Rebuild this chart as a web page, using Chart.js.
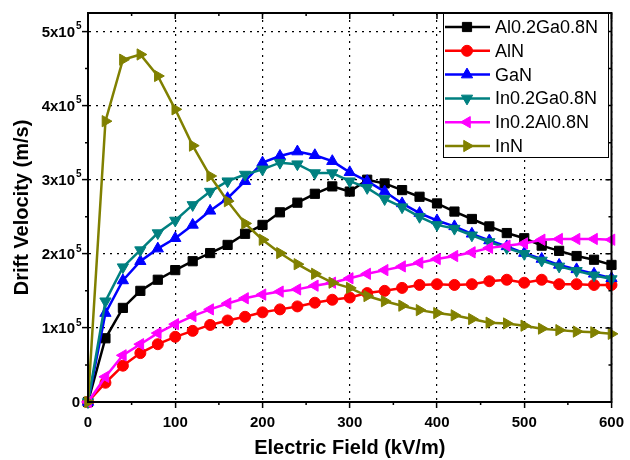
<!DOCTYPE html>
<html>
<head>
<meta charset="utf-8">
<script src="https://cdn.jsdelivr.net/npm/chart.js@4.4.1/dist/chart.umd.min.js"></script>
<style>
  body { margin: 0; background: #fff; }
  canvas { display: block; }
</style>
</head>
<body>
<canvas id="chart" width="630" height="460"></canvas>
<script>
// Electric field (kV/m)
const fields = [0, 20, 40, 60, 80, 100, 120, 140, 160, 180, 200, 220, 240, 260, 280, 300,
                320, 340, 360, 380, 400, 420, 440, 460, 480, 500, 520, 540, 560, 580, 600];

// Drift velocity, in units of 1e5 m/s
const alGaN = [0, 0.86, 1.27, 1.50, 1.65, 1.78, 1.90, 2.01, 2.12, 2.27, 2.39, 2.56, 2.69, 2.81, 2.91, 2.84,
               3.00, 2.95, 2.86, 2.77, 2.68, 2.57, 2.47, 2.37, 2.28, 2.21, 2.11, 2.04, 1.97, 1.92, 1.85];
const alN   = [0, 0.26, 0.49, 0.66, 0.78, 0.88, 0.96, 1.04, 1.10, 1.15, 1.21, 1.25, 1.29, 1.34, 1.38, 1.41,
               1.47, 1.50, 1.54, 1.58, 1.59, 1.58, 1.59, 1.63, 1.65, 1.61, 1.65, 1.59, 1.59, 1.58, 1.58];
const gaN   = [0, 1.20, 1.64, 1.90, 2.07, 2.21, 2.39, 2.58, 2.75, 2.98, 3.23, 3.32, 3.38, 3.33, 3.25, 3.10,
               2.98, 2.84, 2.68, 2.55, 2.45, 2.37, 2.27, 2.18, 2.10, 2.01, 1.93, 1.85, 1.79, 1.73, 1.67];
const inGaN = [0, 1.36, 1.82, 2.05, 2.28, 2.45, 2.66, 2.84, 2.98, 3.07, 3.14, 3.23, 3.21, 3.09, 3.09, 2.98,
               2.89, 2.74, 2.63, 2.50, 2.39, 2.34, 2.25, 2.16, 2.08, 2.00, 1.91, 1.83, 1.77, 1.71, 1.66];
const inAlN = [0, 0.34, 0.63, 0.78, 0.93, 1.05, 1.16, 1.25, 1.33, 1.40, 1.45, 1.49, 1.52, 1.57, 1.61, 1.67,
               1.73, 1.78, 1.83, 1.88, 1.93, 1.97, 2.02, 2.08, 2.11, 2.14, 2.19, 2.20, 2.20, 2.20, 2.19];
const inN   = [0, 3.79, 4.62, 4.69, 4.40, 3.95, 3.46, 3.05, 2.71, 2.41, 2.19, 2.01, 1.86, 1.73, 1.61, 1.54,
               1.43, 1.36, 1.30, 1.24, 1.20, 1.17, 1.12, 1.07, 1.06, 1.03, 0.99, 0.97, 0.95, 0.94, 0.92];

const seriesNames = ['Al0.2Ga0.8N', 'AlN', 'GaN', 'In0.2Ga0.8N', 'In0.2Al0.8N', 'InN'];
const seriesData = [alGaN, alN, gaN, inGaN, inAlN, inN];

const colors    = ['#000000', '#ff0000', '#0000ff', '#008080', '#ff00ff', '#808000'];
const markers   = ['rect', 'circle', 'triangle', 'triangle', 'triangle', 'triangle'];
const rotations = [0, 0, 0, 180, 270, 90];
const radii     = [6.5, 5.5, 6.5, 6.5, 6.5, 6.5];

const datasets = seriesNames.map((name, i) => ({
    label: name,
    data: fields.map((f, j) => ({ x: f, y: seriesData[i][j] })),
    borderColor: colors[i],
    backgroundColor: colors[i],
    pointBackgroundColor: colors[i],
    pointBorderColor: colors[i],
    pointStyle: markers[i],
    pointRotation: rotations[i],
    pointRadius: radii[i],
    pointBorderWidth: 1,
    borderWidth: 2.5,
    tension: 0,
    clip: false,
    order: seriesNames.length - i
}));

const FONT = 'Liberation Sans, Arial, Helvetica, sans-serif';

// frame, minor / mirrored ticks, y tick labels with exponents, legend
const decorations = {
    id: 'decorations',
    afterDraw(chart) {
        const { ctx, chartArea: a, scales: { x, y } } = chart;
        ctx.save();
        ctx.strokeStyle = '#000';
        ctx.lineWidth = 2;
        ctx.strokeRect(a.left, a.top, a.right - a.left, a.bottom - a.top);

        ctx.lineWidth = 1.5;
        ctx.beginPath();
        for (let v = 0; v <= 600; v += 50) {
            const px = x.getPixelForValue(v);
            const len = v % 100 === 0 ? 6 : 3;
            if (v % 100 !== 0) { ctx.moveTo(px, a.bottom); ctx.lineTo(px, a.bottom + len); }
            ctx.moveTo(px, a.top); ctx.lineTo(px, a.top + len);
        }
        for (let v = 0; v <= 5; v += 0.5) {
            const py = y.getPixelForValue(v);
            const len = v % 1 === 0 ? 6 : 3;
            if (v % 1 !== 0) { ctx.moveTo(a.left, py); ctx.lineTo(a.left - len, py); }
            ctx.moveTo(a.right, py); ctx.lineTo(a.right - len, py);
        }
        ctx.stroke();

        // y tick labels: N x 10^5
        ctx.fillStyle = '#000';
        ctx.textBaseline = 'middle';
        for (let v = 0; v <= 5; v++) {
            const py = y.getPixelForValue(v);
            ctx.textAlign = 'right';
            ctx.font = 'bold 15px ' + FONT;
            if (v === 0) {
                ctx.fillText('0', 80, py + 1);
            } else {
                ctx.fillText(v + 'x10', 75, py + 1);
                ctx.textAlign = 'left';
                ctx.font = 'bold 10px ' + FONT;
                ctx.fillText('5', 76, py - 5);
            }
        }

        // legend
        const bx = 443, by = a.top, bw = 165, bh = 144;
        ctx.fillStyle = '#fff';
        ctx.fillRect(bx, by, bw, bh);
        ctx.strokeStyle = '#000';
        ctx.lineWidth = 1;
        ctx.strokeRect(bx + 0.5, by + 0.5, bw, bh);
        seriesNames.forEach((name, i) => {
            const ry = by + 14 + i * 23.8;
            ctx.strokeStyle = colors[i];
            ctx.lineWidth = 2.5;
            ctx.beginPath();
            ctx.moveTo(bx + 2, ry);
            ctx.lineTo(bx + 47, ry);
            ctx.stroke();
            ctx.fillStyle = colors[i];
            ctx.lineWidth = 1;
            Chart.helpers.drawPoint(ctx, {
                pointStyle: markers[i], radius: radii[i], rotation: rotations[i], borderWidth: 1
            }, bx + 24, ry);
            ctx.fillStyle = '#000';
            ctx.font = '18px ' + FONT;
            ctx.textAlign = 'left';
            ctx.textBaseline = 'middle';
            ctx.fillText(name, bx + 52, ry + 1);
        });
        ctx.restore();
    }
};

const gridOpts = {
    color: '#000',
    lineWidth: 1.2,
    tickColor: '#000',
    tickWidth: 1.5,
    tickLength: 6
};

new Chart(document.getElementById('chart').getContext('2d'), {
    type: 'line',
    data: { datasets: datasets },
    options: {
        responsive: false,
        animation: false,
        layout: { padding: { top: 13, right: 12, left: 0, bottom: 0 } },
        plugins: { legend: { display: false }, tooltip: { enabled: false } },
        scales: {
            x: {
                type: 'linear',
                min: 0,
                max: 600,
                afterFit: (s) => { s.height = 58; },
                ticks: {
                    stepSize: 100,
                    color: '#000',
                    padding: 6,
                    font: { family: FONT, size: 15, weight: 'bold' },
                    maxRotation: 0
                },
                grid: gridOpts,
                border: { display: true, color: '#000', width: 2, dash: [2, 5] },
                title: {
                    display: true,
                    text: 'Electric Field (kV/m)',
                    color: '#000',
                    font: { family: FONT, size: 20, weight: 'bold' },
                    padding: { top: 0, bottom: 0 }
                }
            },
            y: {
                type: 'linear',
                min: 0,
                max: 5.25,
                afterFit: (s) => { s.width = 88; },
                ticks: { stepSize: 1, includeBounds: false, display: false },
                grid: gridOpts,
                border: { display: true, color: '#000', width: 2, dash: [2, 5] },
                title: {
                    display: true,
                    text: 'Drift Velocity (m/s)',
                    color: '#000',
                    font: { family: FONT, size: 20, weight: 'bold' },
                    padding: { top: 10, bottom: 0 }
                }
            }
        }
    },
    plugins: [decorations]
});
</script>
</body>
</html>
